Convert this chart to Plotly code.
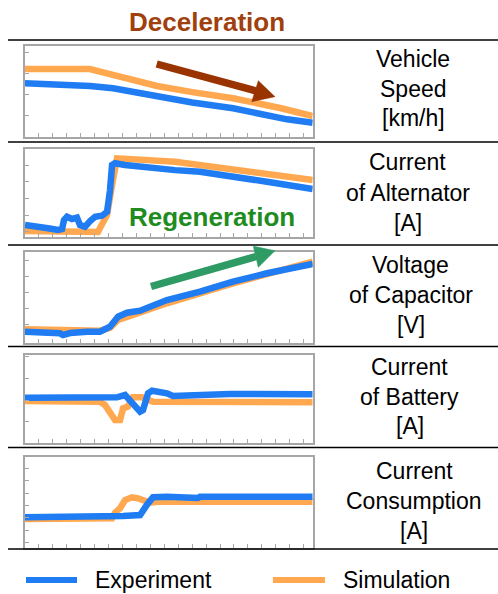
import plotly.graph_objects as go

W, H = 498, 594

# ---------------- data (x in time-tick units, y in % of panel height) ----------------
speed_exp_x = [0, 2.5, 4.67, 6.32, 8.0, 9.48, 12.0, 14.93, 17.0, 18.81, 20.65]
speed_exp_y = [58.7, 57.8, 55.7, 53.2, 48.5, 44.0, 37.5, 31.2, 24.5, 19.1, 15.4]
speed_sim_x = [0, 4.67, 5.38, 7.75, 9.48, 12.0, 14.93, 18.31, 20.65]
speed_sim_y = [74.4, 74.4, 71.6, 62.3, 55.7, 49.0, 42.2, 31.5, 22.7]

alt_exp_x = [0, 0.72, 1.65, 2.37, 2.66, 2.80, 3.02, 3.37, 3.73, 3.95, 4.31, 4.67, 5.03,
             5.53, 5.89, 6.10, 6.25, 6.46, 7.18, 10.77, 12.56, 17.37, 19.02, 20.65]
alt_exp_y = [13.6, 12.5, 9.9, 8.0, 9.0, 19.3, 23.0, 20.5, 22.0, 13.6, 11.7, 18.0, 23.0,
             24.2, 28.8, 53.0, 81.8, 83.8, 81.8, 76.0, 74.2, 62.8, 58.0, 54.5]
alt_sim_x = [0, 5.24, 5.38, 5.89, 6.25, 6.60, 10.77, 12.56, 17.37, 20.65]
alt_sim_y = [6.8, 5.7, 10.2, 25.0, 59.0, 89.4, 85.6, 81.8, 72.4, 64.8]

cap_exp_x = [0, 1.08, 2.51, 2.73, 3.23, 4.45, 5.38, 6.10, 6.68, 7.32, 8.26, 10.19,
             12.56, 14.93, 17.37, 20.65]
cap_exp_y = [12.2, 11.5, 10.4, 8.5, 10.7, 12.2, 12.2, 17.7, 28.8, 33.2, 35.4, 47.2,
             56.4, 67.5, 76.8, 87.1]
cap_sim_x = [0, 2.51, 3.23, 5.38, 6.10, 6.68, 7.75, 10.19, 14.93, 20.65]
cap_sim_y = [14.8, 14.0, 13.3, 13.3, 16.3, 25.1, 30.6, 43.6, 65.7, 89.6]

bat_exp_x = [0, 6.60, 7.18, 7.75, 8.26, 8.47, 8.83, 9.12, 10.19, 10.62, 14.72, 20.65]
bat_exp_y = [51.5, 51.9, 54.5, 45.1, 35.6, 37.5, 56.5, 59.4, 56.5, 53.4, 55.7, 55.3]
bat_sim_x = [0, 5.38, 5.74, 6.10, 6.46, 6.82, 7.04, 7.39, 7.75, 8.40, 8.76, 9.19, 20.65]
bat_sim_y = [47.7, 46.9, 43.2, 35.6, 26.1, 26.1, 39.4, 41.3, 51.9, 51.9, 48.9, 46.9, 46.3]

con_exp_x = [0, 6.10, 7.04, 8.26, 8.47, 8.83, 9.19, 10.19, 12.42, 12.56, 20.65]
con_exp_y = [33.4, 33.4, 34.8, 35.9, 41.4, 48.8, 55.4, 56.0, 54.6, 56.0, 56.0]
con_sim_x = [0, 6.25, 6.46, 6.82, 7.18, 7.68, 8.11, 8.47, 8.97, 9.48, 20.65]
con_sim_y = [31.5, 32.3, 38.5, 43.3, 52.4, 55.4, 54.3, 51.6, 49.5, 50.5, 50.5]

row_labels = [
    ["Vehicle", "Speed", "[km/h]"],
    ["Current", "of Alternator", "[A]"],
    ["Voltage", "of Capacitor", "[V]"],
    ["Current", "of Battery", "[A]"],
    ["Current", "Consumption", "[A]"],
]
y_ticks = [
    [23.2, 46.4, 69.6, 92.8],
    [6.2, 25.0, 43.9, 62.8, 81.7],
    [19.6, 37.3, 55.0, 72.7, 90.4],
    [24.2, 48.8, 73.4, 98.0],
    [5.5, 19.1, 32.8, 46.4, 60.0, 73.7, 87.3],
]
x_ticks = list(range(1, 21))
series_names = ["Experiment", "Simulation"]

panels = [
    (speed_exp_x, speed_exp_y, speed_sim_x, speed_sim_y),
    (alt_exp_x, alt_exp_y, alt_sim_x, alt_sim_y),
    (cap_exp_x, cap_exp_y, cap_sim_x, cap_sim_y),
    (bat_exp_x, bat_exp_y, bat_sim_x, bat_sim_y),
    (con_exp_x, con_exp_y, con_sim_x, con_sim_y),
]

# ---------------- layout geometry (pixels) ----------------
BLUE = "#1F7CF2"
ORANGE = "#FFA84F"
GREY = "#A6A6A6"
FONT = "Liberation Sans, Arial, sans-serif"

box_left, box_right = 25, 312.7
box_tb = [(45.7, 136.7), (149, 237), (252.3, 342.7), (355, 443), (456.7, 547.7)]
sep_lines = [40, 142, 245, 346.5, 447.5, 549]
label_y = [(59, 89, 118), (161.7, 193.3, 223.3), (265, 295, 325),
           (366.7, 396.7, 426), (470.7, 500.7, 530.7)]
label_x = [413, 407.5, 410.5, 409.5, 414]


def xp(px):
    return px / W


def yp(py):
    return 1 - py / H


fig = go.Figure()
layout = dict(
    width=W, height=H, margin=dict(l=0, r=0, t=0, b=0),
    paper_bgcolor="white", plot_bgcolor="white", showlegend=False,
    font=dict(family=FONT, color="black"),
)

for i, (ex, ey, sx, sy) in enumerate(panels):
    n = i + 1
    xa = "x" if n == 1 else f"x{n}"
    ya = "y" if n == 1 else f"y{n}"
    fig.add_trace(go.Scatter(x=sx, y=sy, mode="lines", name=series_names[1],
                             line=dict(color=ORANGE, width=6.5), xaxis=xa, yaxis=ya))
    fig.add_trace(go.Scatter(x=ex, y=ey, mode="lines", name=series_names[0],
                             line=dict(color=BLUE, width=6.5), xaxis=xa, yaxis=ya))
    top, bot = box_tb[i]
    xkey = "xaxis" if n == 1 else f"xaxis{n}"
    ykey = "yaxis" if n == 1 else f"yaxis{n}"
    layout[xkey] = dict(domain=[xp(box_left), xp(box_right)], range=[0, 20.65],
                        anchor=ya, tickvals=x_ticks, ticks="inside", ticklen=4,
                        tickcolor=GREY, tickwidth=1, showticklabels=False,
                        showline=True, mirror=True, linecolor=GREY, linewidth=1.5,
                        showgrid=False, zeroline=False, fixedrange=True)
    layout[ykey] = dict(domain=[yp(bot), yp(top)], range=[0, 100], anchor=xa,
                        tickvals=y_ticks[i], ticks="inside", ticklen=4,
                        tickcolor=GREY, tickwidth=1, showticklabels=False,
                        showline=True, mirror=True, linecolor=GREY, linewidth=1.5,
                        showgrid=False, zeroline=False, fixedrange=True)

shapes = []
for s in sep_lines:
    shapes.append(dict(type="line", xref="paper", yref="paper", x0=xp(8), x1=1,
                       y0=yp(s), y1=yp(s), line=dict(color="black", width=1.5)))


def arrow(x0, y0, bx, by, tip, h1, h2, color, width):
    shapes.append(dict(type="line", xref="paper", yref="paper", x0=xp(x0), y0=yp(y0),
                       x1=xp(bx), y1=yp(by), line=dict(color=color, width=width)))
    path = "M {} {} L {} {} L {} {} Z".format(xp(tip[0]), yp(tip[1]), xp(h1[0]),
                                              yp(h1[1]), xp(h2[0]), yp(h2[1]))
    shapes.append(dict(type="path", xref="paper", yref="paper", path=path,
                       fillcolor=color, line=dict(color=color, width=0.5)))


# brown deceleration arrow
arrow(156.7, 64, 256, 91, (275, 96.7), (258.3, 80.7), (251.7, 101.7), "#993300", 7.5)
# green regeneration arrow
arrow(151, 286.5, 256, 256.5, (275, 250.7), (253.3, 246.2), (258.3, 267.3), "#2E9B64", 7.5)

# legend lines
shapes.append(dict(type="line", xref="paper", yref="paper", x0=xp(26), x1=xp(77),
                   y0=yp(580), y1=yp(580), line=dict(color=BLUE, width=6)))
shapes.append(dict(type="line", xref="paper", yref="paper", x0=xp(273), x1=xp(325),
                   y0=yp(580), y1=yp(580), line=dict(color=ORANGE, width=6)))
layout["shapes"] = shapes

ann = []
for i, lines in enumerate(row_labels):
    for txt, ly in zip(lines, label_y[i]):
        ann.append(dict(text=txt, x=xp(label_x[i]), y=yp(ly), xref="paper", yref="paper",
                        xanchor="center", yanchor="middle", showarrow=False,
                        font=dict(size=23, family=FONT, color="black")))
ann.append(dict(text="<b>Deceleration</b>", x=xp(206.7), y=yp(21.7), xref="paper",
                yref="paper", xanchor="center", yanchor="middle", showarrow=False,
                font=dict(size=26, family=FONT, color="#A0410D")))
ann.append(dict(text="<b>Regeneration</b>", x=xp(212), y=yp(216.7), xref="paper",
                yref="paper", xanchor="center", yanchor="middle", showarrow=False,
                font=dict(size=26, family=FONT, color="#1E8C1E")))
ann.append(dict(text=series_names[0], x=xp(93), y=yp(580), xref="paper", yref="paper",
                xanchor="left", yanchor="middle", showarrow=False,
                font=dict(size=23, family=FONT, color="black")))
ann.append(dict(text=series_names[1], x=xp(341), y=yp(580), xref="paper", yref="paper",
                xanchor="left", yanchor="middle", showarrow=False,
                font=dict(size=23, family=FONT, color="black")))
layout["annotations"] = ann

fig.update_layout(**layout)
fig.write_html("out.html", config={"displayModeBar": False},
               post_script="document.body.style.margin='0';document.body.style.overflow='hidden';")
